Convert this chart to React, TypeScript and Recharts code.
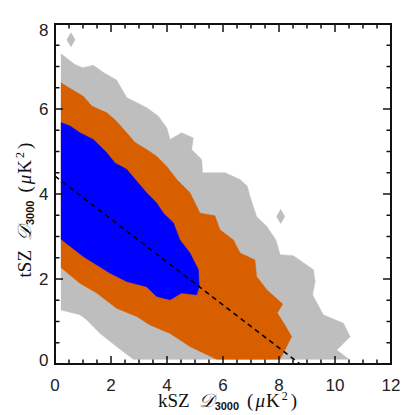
import React from "react"
import { ComposedChart, Scatter, XAxis, YAxis } from "recharts"

// contour outlines, as (kSZ, tSZ) pairs, going round each region
const grayOutline = [
  [0.21, 7.3], [0.71, 7.05], [0.99, 6.97], [1.37, 7.03], [1.73, 6.86], [2.2, 6.68], [2.56, 6.27],
  [3.28, 6.03], [3.69, 5.83], [3.99, 5.56], [4.11, 5.28], [4.52, 5.44], [4.94, 5.32], [4.88, 5.05],
  [5.24, 4.81], [5.27, 4.5], [6.07, 4.5], [6.61, 4.34], [6.87, 4.18], [6.96, 3.95], [7.2, 3.47],
  [7.56, 3.24], [7.89, 2.92], [8.04, 2.57], [8.51, 2.55], [9.23, 2.22], [9.29, 1.94], [9.2, 1.63],
  [9.58, 1.16], [10.3, 0.96], [10.54, 0.64], [10.06, 0.33], [10.5, 0.11], [2.8, 0.11], [2.2, 0.41],
  [1.61, 0.72], [1.13, 1.04], [0.89, 1.16], [0.21, 1.27],
].map(([x, y]) => ({ x, y }))

const orangeOutline = [
  [0.21, 6.62], [0.6, 6.46], [1.01, 6.3], [1.31, 6.07], [1.85, 5.91], [2.14, 5.75], [2.56, 5.44],
  [2.86, 5.21], [3.27, 5.05], [3.63, 4.89], [3.99, 4.65], [4.35, 4.34], [4.82, 4.03], [5.18, 3.55],
  [5.71, 3.49], [5.89, 3.16], [6.37, 2.92], [6.61, 2.61], [7.14, 2.45], [7.2, 2.06], [7.56, 1.75],
  [8.13, 1.41], [7.94, 1.2], [8.21, 0.92], [8.45, 0.64], [8.04, 0.11], [5.77, 0.11], [4.82, 0.41],
  [4.11, 0.72], [3.39, 0.92], [2.92, 1.12], [2.2, 1.31], [1.49, 1.67], [0.89, 1.9], [0.21, 2.27],
].map(([x, y]) => ({ x, y }))

const blueOutline = [
  [0.21, 5.68], [0.54, 5.6], [0.89, 5.44], [1.37, 5.28], [1.85, 4.97], [2.14, 4.73], [2.56, 4.58],
  [2.92, 4.3], [3.27, 4.03], [3.63, 3.79], [3.87, 3.55], [4.23, 3.32], [4.46, 2.92], [4.82, 2.61],
  [5.12, 2.22], [5.15, 1.82], [5.06, 1.63], [4.52, 1.67], [4.11, 1.51], [3.63, 1.59], [3.27, 1.82],
  [2.56, 1.94], [1.96, 2.14], [1.37, 2.38], [1.01, 2.53], [0.54, 2.77], [0.21, 2.94],
].map(([x, y]) => ({ x, y }))

const straySpecks = [
  { x: 0.57, y: 7.63 },
  { x: 8.06, y: 3.47 },
]

const dashedLine = [
  { x: 0, y: 4.42 },
  { x: 8.75, y: 0 },
]

const xTicks = [0, 0.5, 1, 1.5, 2, 2.5, 3, 3.5, 4, 4.5, 5, 5.5, 6, 6.5, 7, 7.5, 8, 8.5, 9, 9.5, 10, 10.5, 11, 11.5, 12]
const yTicks = [0, 0.5, 1, 1.5, 2, 2.5, 3, 3.5, 4, 4.5, 5, 5.5, 6, 6.5, 7, 7.5, 8]
const X_MAX = 12
const Y_MAX = 8

// chart box
const W = 407
const H = 407
const M_TOP = 16
const M_RIGHT = 24
const Y_AXIS_W = 47
const X_AXIS_H = 51
const plotL = Y_AXIS_W
const plotR = W - M_RIGHT
const plotT = M_TOP
const plotB = H - X_AXIS_H
const px = (v: number) => plotL + (v / X_MAX) * (plotR - plotL)
const py = (v: number) => plotB - (v / Y_MAX) * (plotB - plotT)

const numFont = "'Liberation Sans', Arial, sans-serif"
const serif = "'Liberation Serif', 'Times New Roman', serif"
const ink = "#111"

const isMajor = (v: number) => v % 2 === 0
const tickLen = (v: number) => (isMajor(v) ? 8 : 4.5)

const BottomTick = ({ x, y, payload }: any) =>
  isMajor(payload.value) ? (
    <text x={x} y={y + 26.5} textAnchor="middle" fontFamily={numFont} fontSize={17} fill="#222">
      {payload.value}
    </text>
  ) : (
    <g />
  )

const LeftTick = ({ x, y, payload }: any) => {
  const v = payload.value
  if (!isMajor(v)) return <g />
  let dy = 6.2
  if (v === 0) dy = 1.7
  if (v === 8) dy = 12
  return (
    <text x={x - 6.5} y={y + dy} textAnchor="end" fontFamily={numFont} fontSize={17} fill="#222">
      {v}
    </text>
  )
}

const AxisTitle = ({ name }: { name: string }) => (
  <>
    <tspan>{name}</tspan>
    <tspan dx={9} fontStyle="italic">𝒟</tspan>
    <tspan fontFamily={numFont} fontWeight="bold" fontSize={11} dx={1} dy={3}>3000</tspan>
    <tspan dx={8} dy={-3}>(</tspan>
    <tspan dx={2} fontStyle="italic">μ</tspan>
    <tspan dx={1}>K</tspan>
    <tspan fontSize={12} dx={2} dy={-7}>2</tspan>
    <tspan dx={3} dy={7}>)</tspan>
  </>
)

const noDot = () => <g />

// frame with inward ticks on all four sides
const Frame = () => (
  <g stroke={ink} fill="none">
    <rect x={plotL} y={plotT} width={plotR - plotL} height={plotB - plotT} strokeWidth={2} />
    {xTicks.map((v) => (
      <g key={"x" + v} strokeWidth={1.5}>
        <line x1={px(v)} y1={plotB} x2={px(v)} y2={plotB - tickLen(v)} />
        <line x1={px(v)} y1={plotT} x2={px(v)} y2={plotT + tickLen(v)} />
      </g>
    ))}
    {yTicks.map((v) => (
      <g key={"y" + v} strokeWidth={1.5}>
        <line x1={plotL} y1={py(v)} x2={plotL + tickLen(v)} y2={py(v)} />
        <line x1={plotR} y1={py(v)} x2={plotR - tickLen(v)} y2={py(v)} />
      </g>
    ))}
  </g>
)

export default function App() {
  return (
    <div style={{ position: "relative", width: W, height: H }}>
      <ComposedChart width={W} height={H} margin={{ top: M_TOP, right: M_RIGHT, left: 0, bottom: 0 }}>
        <XAxis
          type="number"
          dataKey="x"
          domain={[0, X_MAX]}
          ticks={xTicks}
          interval={0}
          height={X_AXIS_H}
          tickSize={0}
          tickMargin={0}
          tickLine={false}
          axisLine={false}
          tick={<BottomTick />}
        />
        <YAxis
          type="number"
          dataKey="y"
          domain={[0, Y_MAX]}
          ticks={yTicks}
          interval={0}
          width={Y_AXIS_W}
          tickSize={0}
          tickMargin={0}
          tickLine={false}
          axisLine={false}
          tick={<LeftTick />}
        />
        <Scatter
          data={grayOutline}
          fill="#bebebe"
          line={{ fill: "#bebebe", stroke: "#bebebe", strokeWidth: 0.5 }}
          lineJointType="linear"
          shape={noDot}
          zIndex={100}
          isAnimationActive={false}
        />
        <Scatter data={straySpecks} fill="#bebebe" shape="diamond" zIndex={100} isAnimationActive={false} />
        <Scatter
          data={orangeOutline}
          fill="#d75f00"
          line={{ fill: "#d75f00", stroke: "#d75f00", strokeWidth: 0.5 }}
          lineJointType="linear"
          shape={noDot}
          zIndex={101}
          isAnimationActive={false}
        />
        <Scatter
          data={blueOutline}
          fill="#0000ff"
          line={{ fill: "#0000ff", stroke: "#0000ff", strokeWidth: 0.5 }}
          lineJointType="linear"
          shape={noDot}
          zIndex={102}
          isAnimationActive={false}
        />
        <Scatter
          data={dashedLine}
          fill="#000"
          line={{ stroke: "#000", strokeWidth: 1.6, strokeDasharray: "5 4" }}
          lineJointType="linear"
          shape={noDot}
          zIndex={700}
          isAnimationActive={false}
        />
      </ComposedChart>
      <svg width={W} height={H} style={{ position: "absolute", left: 0, top: 0, pointerEvents: "none" }}>
        <Frame />
        <text x={219.5} y={398.7} textAnchor="middle" fontFamily={serif} fontSize={19} fill={ink}>
          <AxisTitle name="kSZ" />
        </text>
        <text
          x={22.7}
          y={202}
          transform="rotate(-90 22.7 202)"
          textAnchor="middle"
          fontFamily={serif}
          fontSize={19}
          fill={ink}
        >
          <AxisTitle name="tSZ" />
        </text>
      </svg>
    </div>
  )
}
